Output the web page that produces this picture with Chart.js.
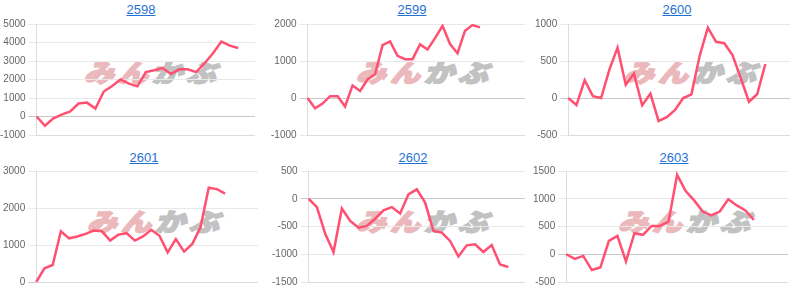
<!DOCTYPE html>
<html>
<head>
<meta charset="utf-8">
<script src="https://cdn.jsdelivr.net/npm/chart.js@4/dist/chart.umd.min.js"></script>
<style>
  html, body { margin: 0; padding: 0; background: #fff; }
  body { width: 800px; height: 289px; position: relative; overflow: hidden; font-family: Arial, "Liberation Sans", sans-serif; }
  .title { position: absolute; font-size: 13px; color: #1f72d6; text-decoration: underline; transform: translateX(-50%); white-space: nowrap; line-height: 15px; }
  .wm { position: absolute; font-family: "Noto Sans CJK JP", sans-serif; font-weight: 900; font-size: 30px; line-height: 30px; white-space: nowrap; transform: translate(-50%, -50%) skewX(-16deg) scaleY(0.82); letter-spacing: 4px; }
  .wm .a { color: #ebb9bc; -webkit-text-stroke: 2px #ebb9bc; }
  .wm .b { color: #c2c2c2; -webkit-text-stroke: 2px #c2c2c2; }
  canvas { position: absolute; }
</style>
</head>
<body>
<script>
// ---- data ----
const codes = ["2598", "2599", "2600", "2601", "2602", "2603"];

const labelCounts = [27, 30, 28, 28, 27, 27];

const values2598 = [0, -500, -100, 100, 270, 700, 750, 430, 1350, 1650, 2000, 1780, 1630, 2400, 2500, 2620, 2300, 2550, 2550, 2400, 2880, 3420, 4050, 3830, 3700];
const values2599 = [0, -280, -150, 50, 50, -230, 340, 190, 500, 640, 1430, 1530, 1140, 1050, 1050, 1450, 1310, 1620, 1950, 1460, 1210, 1820, 1970, 1910];
const values2600 = [0, -95, 240, 25, 0, 380, 680, 180, 330, -100, 60, -310, -260, -160, 0, 50, 570, 950, 760, 740, 580, 270, -50, 50, 460];
const values2601 = [0, 370, 460, 1370, 1180, 1230, 1300, 1390, 1370, 1120, 1280, 1320, 1120, 1230, 1410, 1250, 800, 1160, 820, 1030, 1480, 2550, 2510, 2390];
const values2602 = [0, -150, -630, -960, -175, -400, -520, -490, -360, -210, -150, -265, 80, 170, -70, -580, -610, -760, -1040, -840, -820, -960, -835, -1185, -1230];
const values2603 = [0, -85, -30, -285, -240, 240, 330, -130, 380, 350, 510, 510, 590, 1430, 1140, 970, 770, 700, 770, 990, 880, 790, 620];

const yMins  = [-1000, -1000, -500, 0, -1500, -500];
const yMaxs  = [5000, 2000, 1000, 3000, 500, 1500];
const ySteps = [1000, 1000, 500, 1000, 500, 500];

const seriesList = [values2598, values2599, values2600, values2601, values2602, values2603];

// ---- layout ----
const panels = [
  { left: -3,  top: 15,  w: 258, h: 129, tx: 141, ty: 2,   wx: 155, wy: 71 },
  { left: 268, top: 15,  w: 257, h: 129, tx: 412, ty: 2,   wx: 427, wy: 71 },
  { left: 532, top: 15,  w: 258, h: 129, tx: 677, ty: 2,   wx: 695, wy: 71 },
  { left: 0,   top: 162, w: 258, h: 129, tx: 144, ty: 150, wx: 158, wy: 220 },
  { left: 269, top: 162, w: 256, h: 129, tx: 413, ty: 150, wx: 427, wy: 220 },
  { left: 530, top: 162, w: 258, h: 129, tx: 674, ty: 150, wx: 689, wy: 220 }
];

Chart.defaults.font.family = "Arial, 'Liberation Sans', sans-serif";
Chart.defaults.font.size = 10;
Chart.defaults.color = "#666";

codes.forEach((code, i) => {
  const p = panels[i];
  const t = document.createElement("a");
  t.className = "title";
  t.textContent = code;
  t.style.left = p.tx + "px";
  t.style.top = p.ty + "px";
  document.body.appendChild(t);

  const wm = document.createElement("div");
  wm.className = "wm";
  wm.innerHTML = '<span class="a">みん</span><span class="b">かぶ</span>';
  wm.style.left = p.wx + "px";
  wm.style.top = p.wy + "px";
  document.body.appendChild(wm);

  const c = document.createElement("canvas");
  c.width = p.w; c.height = p.h;
  c.style.left = p.left + "px";
  c.style.top = p.top + "px";
  c.style.width = p.w + "px";
  c.style.height = p.h + "px";
  document.body.appendChild(c);

  const labels = [];
  for (let k = 1; k <= labelCounts[i]; k++) labels.push(String(k));

  new Chart(c, {
    type: "line",
    data: {
      labels: labels,
      datasets: [{
        data: seriesList[i],
        borderColor: "#ff5072",
        borderWidth: 2.5,
        pointRadius: 0,
        tension: 0,
        fill: false
      }]
    },
    options: {
      responsive: false,
      animation: false,
      devicePixelRatio: 1,
      layout: { padding: 0, autoPadding: false },
      plugins: { legend: { display: false }, tooltip: { enabled: false }, title: { display: false } },
      scales: {
        x: {
          ticks: { display: false },
          grid: { display: false, drawTicks: false, tickLength: 0 },
          border: { display: true, color: "#dcdcdc" }
        },
        y: {
          min: yMins[i],
          max: yMaxs[i],
          ticks: { stepSize: ySteps[i], color: "#666", font: { size: 10 }, padding: 3, callback: (v) => String(v) },
          grid: {
            color: (ctx) => (ctx.tick && ctx.tick.value === 0) ? "#c8c8c8" : "#e8e8e8",
            tickLength: 8
          },
          border: { display: true, color: "#dcdcdc" }
        }
      }
    }
  });
});
</script>
</body>
</html>
